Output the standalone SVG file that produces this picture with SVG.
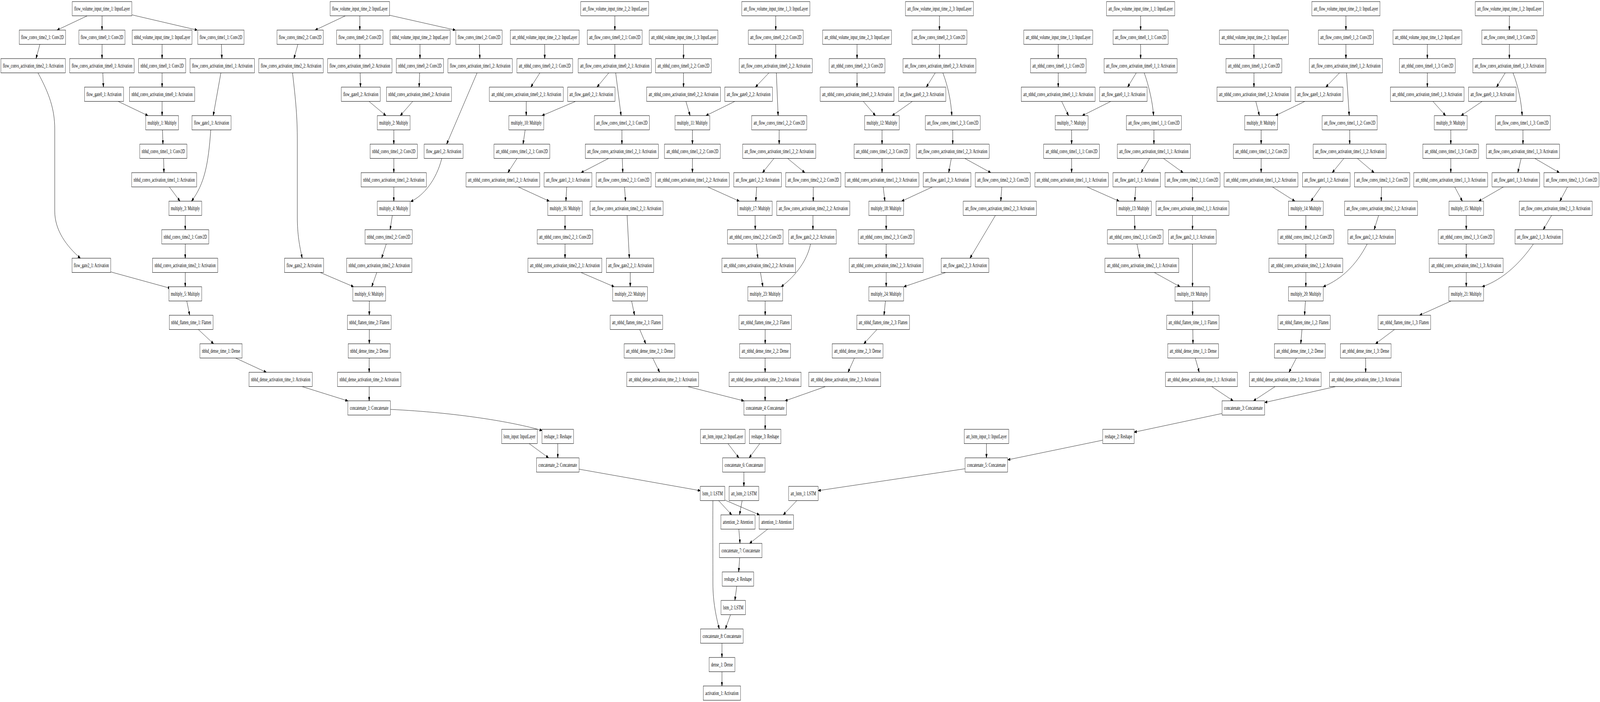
<svg xmlns="http://www.w3.org/2000/svg" width="6490" height="1797" viewBox="0 0 6490 1797" preserveAspectRatio="none">
<style>
svg{width:100vw;height:100vh;display:block}
.node rect{fill:#fff;stroke:#000;stroke-width:1}
.node text{font-family:"Liberation Serif","Times New Roman",serif;font-size:14px;text-anchor:middle;fill:#000}
#edges path{fill:none;stroke:#000;stroke-width:1;marker-end:url(#arr)}
</style>
<defs>
<marker id="arr" markerWidth="10" markerHeight="7" refX="10" refY="3.5" orient="auto" markerUnits="userSpaceOnUse"><path d="M0,0 L10,3.5 L0,7 z" fill="#000" stroke="#000" stroke-width="1"/></marker>
</defs>
<rect x="0" y="0" width="6490" height="1797" fill="#fff"/>
<g id="edges">
<path d="M354,40.5 L231.5,77"/>
<path d="M414,40.5 L414,77"/>
<path d="M535,38 L800,77"/>
<path d="M162,113.5 L146,150"/>
<path d="M414,113.5 L414,150"/>
<path d="M657.5,113.5 L657.5,150"/>
<path d="M898,113.5 L900,150"/>
<path d="M154,186.5 C200,240 222,280 222,330 L222,540 C222,590 270,630 326,661"/>
<path d="M417,186.5 L419.5,223"/>
<path d="M657.5,186.5 L657.5,223"/>
<path d="M896,186.5 L865,296"/>
<path d="M479,259.5 L600,296"/>
<path d="M657.5,259.5 L657.5,296"/>
<path d="M659,332.5 L661,369"/>
<path d="M663.6,405.5 L665,442"/>
<path d="M687,478.5 L730,515"/>
<path d="M855,332.5 C845,420 830,470 777,515"/>
<path d="M751.5,551.5 L751.5,588"/>
<path d="M751.5,624.5 L751.5,661"/>
<path d="M449,696 L691,738"/>
<path d="M751.5,697.5 L751.5,734"/>
<path d="M757.6,770.5 L769.6,807"/>
<path d="M804.6,843.5 L866.4,880"/>
<path d="M955.5,916.5 L1080.3,953"/>
<path d="M1225,989.5 L1411,1026.2"/>
<path d="M1401,40.5 L1278.5,77"/>
<path d="M1459.5,40.5 L1459.5,77"/>
<path d="M1580,39 L1847,77"/>
<path d="M1208.4,113.5 L1192.2,150"/>
<path d="M1459.5,113.5 L1459.5,150"/>
<path d="M1703.6,113.5 L1703.6,150"/>
<path d="M1944.3,113.5 L1946.4,150"/>
<path d="M1186.6,186.5 C1200,260 1206,300 1206,360 L1206,556 C1206,600 1215,630 1226,661"/>
<path d="M1460.9,186.5 L1462.3,223"/>
<path d="M1702.2,186.5 L1700.1,223"/>
<path d="M1935.1,186.5 L1811.7,369"/>
<path d="M1496.7,259.5 L1565.4,296"/>
<path d="M1674.2,259.5 L1623.7,296"/>
<path d="M1597.5,332.5 L1597.5,369"/>
<path d="M1597.5,405.5 L1597.5,442"/>
<path d="M1597.5,478.5 L1597.5,515"/>
<path d="M1792,405.5 C1770,460 1720,500 1666,516"/>
<path d="M1591.4,551.5 L1582.3,588"/>
<path d="M1566.8,624.5 L1547.9,661"/>
<path d="M1298.9,697.5 L1434.3,734"/>
<path d="M1528.3,697.5 L1507.9,734"/>
<path d="M1498,770.5 L1498,807"/>
<path d="M1498,843.5 L1498,880"/>
<path d="M1497.5,916.5 L1497.5,953"/>
<path d="M1497.5,989.5 L1497.5,1026"/>
<path d="M2494,40.5 L2494,77"/>
<path d="M2209.5,113.5 L2209.5,150"/>
<path d="M2494,113.5 L2494,150"/>
<path d="M2190,186.5 L2153.3,223"/>
<path d="M2469.4,186.5 L2421.7,223"/>
<path d="M2497.4,186.5 L2519.2,296"/>
<path d="M2134.6,259.5 L2134.6,296"/>
<path d="M2334.7,259.5 L2198.6,296"/>
<path d="M2130.2,332.5 L2121.7,369"/>
<path d="M2097.2,405.5 L2060,442"/>
<path d="M2522.7,332.5 L2522.7,369"/>
<path d="M2468.7,405.5 L2357.1,442"/>
<path d="M2524.1,405.5 L2526.2,442"/>
<path d="M2102.1,478.5 L2228,515"/>
<path d="M2298.9,478.5 L2295.4,515"/>
<path d="M2533.2,478.5 L2537.4,515"/>
<path d="M2291.9,551.5 L2291.9,588"/>
<path d="M2291.9,624.5 L2291.9,661"/>
<path d="M2543.7,551.5 L2552.8,661"/>
<path d="M2356.4,697.5 L2491.1,734"/>
<path d="M2556.4,697.5 L2556.4,734"/>
<path d="M2562,770.5 L2573.9,807"/>
<path d="M2594.9,843.5 L2619.5,880"/>
<path d="M2647.5,916.5 L2675.6,953"/>
<path d="M2789.3,989.5 L3017.3,1026.2"/>
<path d="M3146.5,40.5 L3146.5,77"/>
<path d="M2772.4,113.5 L2772.4,150"/>
<path d="M3146.5,113.5 L3146.5,150"/>
<path d="M2772.4,186.5 L2772.4,223"/>
<path d="M3119,186.5 L3064.3,223"/>
<path d="M3149.1,186.5 L3156.2,296"/>
<path d="M2782.2,259.5 L2799.1,296"/>
<path d="M2980.8,259.5 L2863.6,296"/>
<path d="M2808.7,332.5 L2808.7,369"/>
<path d="M3160.5,332.5 L3160.5,369"/>
<path d="M2808.7,405.5 L2808.7,442"/>
<path d="M3139.3,405.5 L3093,442"/>
<path d="M3194.7,405.5 L3264.6,442"/>
<path d="M2870.6,478.5 L2999,515"/>
<path d="M3069.2,478.5 L3065.6,515"/>
<path d="M3298.8,478.5 L3298.8,515"/>
<path d="M3062.8,551.5 L3063.5,588"/>
<path d="M3297.5,551.5 L3297.5,588"/>
<path d="M3067.7,624.5 L3074.1,661"/>
<path d="M3084.6,697.5 L3094.4,734"/>
<path d="M3287.7,624.5 C3275,665 3230,705 3168.8,734"/>
<path d="M3103.7,770.5 L3103.7,807"/>
<path d="M3103.7,843.5 L3103.7,880"/>
<path d="M3103.5,916.5 L3103.5,953"/>
<path d="M3103.5,989.5 L3103.5,1026"/>
<path d="M3810.7,40.5 L3810.7,77"/>
<path d="M3476.4,113.5 L3476.4,150"/>
<path d="M3810.7,113.5 L3810.7,150"/>
<path d="M3476.4,186.5 L3476.4,223"/>
<path d="M3793.5,186.5 L3757.7,223"/>
<path d="M3824.4,186.5 C3845,220 3858,260 3860.8,296"/>
<path d="M3501.7,259.5 L3550.8,296"/>
<path d="M3700.9,259.5 L3618.8,296"/>
<path d="M3577.8,332.5 L3577.8,369"/>
<path d="M3864.5,332.5 L3864.5,369"/>
<path d="M3577.8,405.5 L3577.8,442"/>
<path d="M3858.7,405.5 L3848.2,442"/>
<path d="M3913.4,405.5 L4018.7,442"/>
<path d="M3582.3,478.5 L3589.4,515"/>
<path d="M3782.3,478.5 L3657.4,515"/>
<path d="M4063.6,478.5 L4059.4,515"/>
<path d="M3594.6,551.5 L3594.6,588"/>
<path d="M3594.6,624.5 L3594.6,661"/>
<path d="M4037.6,551.5 L3934.5,661"/>
<path d="M3594.6,697.5 L3594.6,734"/>
<path d="M3836.3,697.5 L3666.5,734"/>
<path d="M3591.5,770.5 L3585.8,807"/>
<path d="M3557.1,843.5 L3503.8,880"/>
<path d="M3465.9,916.5 L3439.9,953"/>
<path d="M3348.7,989.5 L3184.2,1026.2"/>
<path d="M4626.6,40.5 L4626.6,77"/>
<path d="M4292.5,113.5 L4292.5,150"/>
<path d="M4626.6,113.5 L4626.6,150"/>
<path d="M4292.5,186.5 L4292.5,223"/>
<path d="M4609,186.5 L4574,223"/>
<path d="M4641.3,186.5 C4660,220 4675,260 4679.2,296"/>
<path d="M4306.3,259.5 L4334,296"/>
<path d="M4505.9,259.5 L4390.2,296"/>
<path d="M4346.7,332.5 L4346.7,369"/>
<path d="M4680.6,332.5 L4680.6,369"/>
<path d="M4346.7,405.5 L4346.7,442"/>
<path d="M4663,405.5 L4628.7,442"/>
<path d="M4719.2,405.5 L4799.1,442"/>
<path d="M4409.1,478.5 L4539.6,515"/>
<path d="M4606.9,478.5 L4602.7,515"/>
<path d="M4837,478.5 L4837,515"/>
<path d="M4601.3,551.5 L4603.4,588"/>
<path d="M4837,551.5 L4837,588"/>
<path d="M4611.8,624.5 L4623.8,661"/>
<path d="M4682,697.5 L4786.5,734"/>
<path d="M4837,624.5 L4837,734"/>
<path d="M4837.5,770.5 L4837.5,807"/>
<path d="M4838.4,843.5 L4839.1,880"/>
<path d="M4848.2,916.5 L4864.4,953"/>
<path d="M4914.9,989.5 L5001.9,1026"/>
<path d="M5459.4,40.5 L5459.4,77"/>
<path d="M5086.4,113.5 L5086.4,150"/>
<path d="M5459.4,113.5 L5459.4,150"/>
<path d="M5086.4,186.5 L5086.4,223"/>
<path d="M5433.5,186.5 L5377.9,223"/>
<path d="M5461.6,186.5 L5472.8,296"/>
<path d="M5093.8,259.5 L5108.5,296"/>
<path d="M5293,259.5 L5173.7,296"/>
<path d="M5115.5,332.5 L5115.5,369"/>
<path d="M5474.8,332.5 L5474.8,369"/>
<path d="M5115.5,405.5 L5115.5,442"/>
<path d="M5451,405.5 L5404,442"/>
<path d="M5505.8,405.5 L5573.8,442"/>
<path d="M5161.1,478.5 L5252.3,515"/>
<path d="M5358.2,478.5 L5317.5,515"/>
<path d="M5604,478.5 L5602.6,515"/>
<path d="M5296.8,551.5 L5296.8,588"/>
<path d="M5592,551.5 L5573.8,588"/>
<path d="M5296.8,624.5 L5296.8,661"/>
<path d="M5296.8,697.5 L5296.8,734"/>
<path d="M5545.7,624.5 C5500,680 5440,715 5367.4,734"/>
<path d="M5295.1,770.5 L5291.6,807"/>
<path d="M5281.1,843.5 L5276.2,880"/>
<path d="M5258.6,916.5 L5228.5,953"/>
<path d="M5172.3,989.5 L5084.6,1026"/>
<path d="M6122.4,40.5 L6122.4,77"/>
<path d="M5789.7,113.5 L5789.7,150"/>
<path d="M6122.4,113.5 L6122.4,150"/>
<path d="M5789.7,186.5 L5789.7,223"/>
<path d="M6105.5,186.5 L6070.5,223"/>
<path d="M6137.1,186.5 C6158,220 6171,260 6174.3,296"/>
<path d="M5812.3,259.5 L5863.5,296"/>
<path d="M6012.2,259.5 L5926.7,296"/>
<path d="M5884.8,332.5 L5884.8,369"/>
<path d="M6177.5,332.5 L6177.5,369"/>
<path d="M5884.8,405.5 L5884.8,442"/>
<path d="M6170.1,405.5 L6156.7,442"/>
<path d="M6225.5,405.5 L6325.1,442"/>
<path d="M5900.7,478.5 L5931.6,515"/>
<path d="M6098.5,478.5 L5998.2,515"/>
<path d="M6358.1,478.5 L6327.2,515"/>
<path d="M5947.5,551.5 L5947.5,588"/>
<path d="M6293.6,551.5 L6259.9,588"/>
<path d="M5947.5,624.5 L5947.5,661"/>
<path d="M5947.5,697.5 L5947.5,734"/>
<path d="M6219.9,624.5 C6170,670 6100,715 6012.2,734"/>
<path d="M5886,770.5 L5758.3,807"/>
<path d="M5656.6,843.5 L5579.4,880"/>
<path d="M5539.4,916.5 L5539.4,953"/>
<path d="M5418,989.5 L5130.2,1030.3"/>
<path d="M1584,1048 C1850,1056 2080,1080 2199,1102"/>
<path d="M2146.3,1135.5 L2225.2,1172"/>
<path d="M2262.4,1135.5 L2262.4,1172"/>
<path d="M2348.7,1201 L2840.5,1256"/>
<path d="M3103.6,1062.5 L3103.6,1099"/>
<path d="M2952.7,1135.5 L2996.9,1172"/>
<path d="M3081.8,1135.5 L3039,1172"/>
<path d="M3017.4,1208.5 L3017.4,1245"/>
<path d="M4957,1058.4 L4600.6,1106.3"/>
<path d="M4472.9,1126.8 L4088,1177"/>
<path d="M4001.3,1135.5 L4001.3,1172"/>
<path d="M3914.8,1199.9 L3318.6,1256"/>
<path d="M2914.8,1281.5 L2968.1,1318"/>
<path d="M2940.1,1280 L3080.4,1318"/>
<path d="M2891.7,1281.5 C2891,1350 2891.7,1400 2891.7,1494 C2891.7,1540 2905,1580 2917.6,1610"/>
<path d="M3010.2,1281.5 L2999.7,1318"/>
<path d="M3231.9,1281.5 L3177.2,1318"/>
<path d="M2996.9,1354.5 L3001.8,1391"/>
<path d="M3114,1354.5 L3040.4,1391"/>
<path d="M3000.4,1427.5 L2996.2,1464"/>
<path d="M2988.5,1500.5 L2980.8,1537"/>
<path d="M2963.2,1573.5 L2942.2,1610"/>
<path d="M2928.5,1646.5 L2928.5,1683"/>
<path d="M2928.5,1719.5 L2928.5,1756"/>
</g>
<g id="n_fvi1" class="node"><rect x="293" y="4" width="242" height="36.5"/><text x="414" y="27">flow_volume_input_time_1: InputLayer</text></g>
<g id="n_fct2_1" class="node"><rect x="78" y="77" width="188" height="36.5"/><text x="172" y="100">flow_convs_time2_1: Conv2D</text></g>
<g id="n_fct0_1" class="node"><rect x="320" y="77" width="187" height="36.5"/><text x="413.5" y="100">flow_convs_time0_1: Conv2D</text></g>
<g id="n_nvi1" class="node"><rect x="536" y="77" width="243" height="36.5"/><text x="657.5" y="100">nbhd_volume_input_time_1: InputLayer</text></g>
<g id="n_fct1_1" class="node"><rect x="802" y="77" width="188" height="36.5"/><text x="896" y="100">flow_convs_time1_1: Conv2D</text></g>
<g id="n_fca2_1" class="node"><rect x="3.5" y="150" width="261.5" height="36.5"/><text x="134.3" y="173">flow_convs_activation_time2_1: Activation</text></g>
<g id="n_fca0_1" class="node"><rect x="283" y="150" width="261" height="36.5"/><text x="413.5" y="173">flow_convs_activation_time0_1: Activation</text></g>
<g id="n_nct0_1" class="node"><rect x="562" y="150" width="191" height="36.5"/><text x="657.5" y="173">nbhd_convs_time0_1: Conv2D</text></g>
<g id="n_fca1_1" class="node"><rect x="771" y="150" width="261" height="36.5"/><text x="901.5" y="173">flow_convs_activation_time1_1: Activation</text></g>
<g id="n_fg0_1" class="node"><rect x="343" y="223" width="158" height="36.5"/><text x="422" y="246">flow_gate0_1: Activation</text></g>
<g id="n_nca0_1" class="node"><rect x="525" y="223" width="265" height="36.5"/><text x="657.5" y="246">nbhd_convs_activation_time0_1: Activation</text></g>
<g id="n_m1" class="node"><rect x="591" y="296" width="133" height="36.5"/><text x="657.5" y="319">multiply_1: Multiply</text></g>
<g id="n_fg1_1" class="node"><rect x="779" y="296" width="158" height="36.5"/><text x="858" y="319">flow_gate1_1: Activation</text></g>
<g id="n_nct1_1" class="node"><rect x="567" y="369" width="191" height="36.5"/><text x="662.5" y="392">nbhd_convs_time1_1: Conv2D</text></g>
<g id="n_nca1_1" class="node"><rect x="534" y="442" width="264" height="36.5"/><text x="666" y="465">nbhd_convs_activation_time1_1: Activation</text></g>
<g id="n_m3" class="node"><rect x="685" y="515" width="133" height="36.5"/><text x="751.5" y="538">multiply_3: Multiply</text></g>
<g id="n_nct2_1" class="node"><rect x="656" y="588" width="191" height="36.5"/><text x="751.5" y="611">nbhd_convs_time2_1: Conv2D</text></g>
<g id="n_fg2_1" class="node"><rect x="292" y="661" width="157" height="36.5"/><text x="370.5" y="684">flow_gate2_1: Activation</text></g>
<g id="n_nca2_1" class="node"><rect x="619" y="661" width="264" height="36.5"/><text x="751" y="684">nbhd_convs_activation_time2_1: Activation</text></g>
<g id="n_m5" class="node"><rect x="685" y="734" width="133" height="36.5"/><text x="751.5" y="757">multiply_5: Multiply</text></g>
<g id="n_nfl1" class="node"><rect x="687" y="807" width="177" height="36.5"/><text x="775.5" y="830">nbhd_flatten_time_1: Flatten</text></g>
<g id="n_nde1" class="node"><rect x="811" y="880" width="171" height="36.5"/><text x="896.5" y="903">nbhd_dense_time_1: Dense</text></g>
<g id="n_nda1" class="node"><rect x="1010" y="953" width="257" height="36.5"/><text x="1138.5" y="976">nbhd_dense_activation_time_1: Activation</text></g>
<g id="n_fvi2" class="node"><rect x="1339" y="4" width="241" height="36.5"/><text x="1459.5" y="27">flow_volume_input_time_2: InputLayer</text></g>
<g id="n_fct2_2" class="node"><rect x="1123.5" y="77" width="188" height="36.5"/><text x="1217.5" y="100">flow_convs_time2_2: Conv2D</text></g>
<g id="n_fct0_2" class="node"><rect x="1365.5" y="77" width="188" height="36.5"/><text x="1459.5" y="100">flow_convs_time0_2: Conv2D</text></g>
<g id="n_nvi2" class="node"><rect x="1582" y="77" width="244" height="36.5"/><text x="1704" y="100">nbhd_volume_input_time_2: InputLayer</text></g>
<g id="n_fct1_2" class="node"><rect x="1849" y="77" width="188" height="36.5"/><text x="1943" y="100">flow_convs_time1_2: Conv2D</text></g>
<g id="n_fca2_2" class="node"><rect x="1050" y="150" width="261" height="36.5"/><text x="1180.5" y="173">flow_convs_activation_time2_2: Activation</text></g>
<g id="n_fca0_2" class="node"><rect x="1329" y="150" width="261" height="36.5"/><text x="1459.5" y="173">flow_convs_activation_time0_2: Activation</text></g>
<g id="n_nct0_2" class="node"><rect x="1607.5" y="150" width="191.5" height="36.5"/><text x="1703.3" y="173">nbhd_convs_time0_2: Conv2D</text></g>
<g id="n_fca1_2" class="node"><rect x="1817" y="150" width="261" height="36.5"/><text x="1947.5" y="173">flow_convs_activation_time1_2: Activation</text></g>
<g id="n_fg0_2" class="node"><rect x="1384.5" y="223" width="158" height="36.5"/><text x="1463.5" y="246">flow_gate0_2: Activation</text></g>
<g id="n_nca0_2" class="node"><rect x="1567.5" y="223" width="264" height="36.5"/><text x="1699.5" y="246">nbhd_convs_activation_time0_2: Activation</text></g>
<g id="n_m2" class="node"><rect x="1530.5" y="296" width="133" height="36.5"/><text x="1597" y="319">multiply_2: Multiply</text></g>
<g id="n_nct1_2" class="node"><rect x="1501.5" y="369" width="191.5" height="36.5"/><text x="1597.3" y="392">nbhd_convs_time1_2: Conv2D</text></g>
<g id="n_fg1_2" class="node"><rect x="1720.5" y="369" width="158" height="36.5"/><text x="1799.5" y="392">flow_gate1_2: Activation</text></g>
<g id="n_nca1_2" class="node"><rect x="1465" y="442" width="264.5" height="36.5"/><text x="1597.3" y="465">nbhd_convs_activation_time1_2: Activation</text></g>
<g id="n_m4" class="node"><rect x="1530.5" y="515" width="133" height="36.5"/><text x="1597" y="538">multiply_4: Multiply</text></g>
<g id="n_nct2_2" class="node"><rect x="1480.5" y="588" width="191.5" height="36.5"/><text x="1576.3" y="611">nbhd_convs_time2_2: Conv2D</text></g>
<g id="n_fg2_2" class="node"><rect x="1154.5" y="661" width="158" height="36.5"/><text x="1233.5" y="684">flow_gate2_2: Activation</text></g>
<g id="n_nca2_2" class="node"><rect x="1406" y="661" width="264.5" height="36.5"/><text x="1538.3" y="684">nbhd_convs_activation_time2_2: Activation</text></g>
<g id="n_m6" class="node"><rect x="1431" y="734" width="133" height="36.5"/><text x="1497.5" y="757">multiply_6: Multiply</text></g>
<g id="n_nfl2" class="node"><rect x="1409" y="807" width="177.5" height="36.5"/><text x="1497.8" y="830">nbhd_flatten_time_2: Flatten</text></g>
<g id="n_nde2" class="node"><rect x="1412.5" y="880" width="170.5" height="36.5"/><text x="1497.8" y="903">nbhd_dense_time_2: Dense</text></g>
<g id="n_nda2" class="node"><rect x="1369" y="953" width="257" height="36.5"/><text x="1497.5" y="976">nbhd_dense_activation_time_2: Activation</text></g>
<g id="n_anvi2_2" class="node"><rect x="2069.8" y="77" width="279.6" height="36.5"/><text x="2209.6" y="100">att_nbhd_volume_input_time_2_2: InputLayer</text></g>
<g id="n_afvi2_2" class="node"><rect x="2355.7" y="4" width="275.7" height="36.5"/><text x="2493.6" y="27">att_flow_volume_input_time_2_2: InputLayer</text></g>
<g id="n_afct0_2_1" class="node"><rect x="2382.4" y="77" width="222.4" height="36.5"/><text x="2493.6" y="100">att_flow_convs_time0_2_1: Conv2D</text></g>
<g id="n_anct0_2_1" class="node"><rect x="2096.5" y="150" width="226.3" height="36.5"/><text x="2209.6" y="173">att_nbhd_convs_time0_2_1: Conv2D</text></g>
<g id="n_afca0_2_1" class="node"><rect x="2345.2" y="150" width="296.7" height="36.5"/><text x="2493.6" y="173">att_flow_convs_activation_time0_2_1: Activation</text></g>
<g id="n_anca0_2_1" class="node"><rect x="1985" y="223" width="299.9" height="36.5"/><text x="2135" y="246">att_nbhd_convs_activation_time0_2_1: Activation</text></g>
<g id="n_afg0_2_1" class="node"><rect x="2302.4" y="223" width="192.2" height="36.5"/><text x="2398.5" y="246">att_flow_gate0_2_1: Activation</text></g>
<g id="n_m10" class="node"><rect x="2064.2" y="296" width="141.4" height="36.5"/><text x="2134.9" y="319">multiply_10: Multiply</text></g>
<g id="n_afct1_2_1" class="node"><rect x="2411.1" y="296" width="223.1" height="36.5"/><text x="2522.7" y="319">att_flow_convs_time1_2_1: Conv2D</text></g>
<g id="n_anct1_2_1" class="node"><rect x="2003.9" y="369" width="226.3" height="36.5"/><text x="2117" y="392">att_nbhd_convs_time1_2_1: Conv2D</text></g>
<g id="n_afca1_2_1" class="node"><rect x="2374" y="369" width="296.7" height="36.5"/><text x="2522.4" y="392">att_flow_convs_activation_time1_2_1: Activation</text></g>
<g id="n_anca1_2_1" class="node"><rect x="1890.3" y="442" width="299.2" height="36.5"/><text x="2039.9" y="465">att_nbhd_convs_activation_time1_2_1: Activation</text></g>
<g id="n_afg1_2_1" class="node"><rect x="2207" y="442" width="193.6" height="36.5"/><text x="2303.8" y="465">att_flow_gate1_2_1: Activation</text></g>
<g id="n_afct2_2_1" class="node"><rect x="2418.2" y="442" width="223" height="36.5"/><text x="2529.7" y="465">att_flow_convs_time2_2_1: Conv2D</text></g>
<g id="n_m16" class="node"><rect x="2221.7" y="515" width="140.3" height="36.5"/><text x="2291.9" y="538">multiply_16: Multiply</text></g>
<g id="n_afca2_2_1" class="node"><rect x="2393.6" y="515" width="296" height="36.5"/><text x="2541.6" y="538">att_flow_convs_activation_time2_2_1: Activation</text></g>
<g id="n_anct2_2_1" class="node"><rect x="2178.9" y="588" width="225.9" height="36.5"/><text x="2291.9" y="611">att_nbhd_convs_time2_2_1: Conv2D</text></g>
<g id="n_anca2_2_1" class="node"><rect x="2141.4" y="661" width="299.9" height="36.5"/><text x="2291.4" y="684">att_nbhd_convs_activation_time2_2_1: Activation</text></g>
<g id="n_afg2_2_1" class="node"><rect x="2459.5" y="661" width="192.3" height="36.5"/><text x="2555.7" y="684">att_flow_gate2_2_1: Activation</text></g>
<g id="n_m22" class="node"><rect x="2485.5" y="734" width="141" height="36.5"/><text x="2556" y="757">multiply_22: Multiply</text></g>
<g id="n_afl2_1" class="node"><rect x="2475" y="807" width="213.2" height="36.5"/><text x="2581.6" y="830">att_nbhd_flatten_time_2_1: Flatten</text></g>
<g id="n_ade2_1" class="node"><rect x="2531.8" y="880" width="205.5" height="36.5"/><text x="2634.6" y="903">att_nbhd_dense_time_2_1: Dense</text></g>
<g id="n_ada2_1" class="node"><rect x="2542.3" y="953" width="291.8" height="36.5"/><text x="2688.2" y="976">att_nbhd_dense_activation_time_2_1: Activation</text></g>
<g id="n_afvi1_3" class="node"><rect x="3008.8" y="4" width="276.1" height="36.5"/><text x="3146.9" y="27">att_flow_volume_input_time_1_3: InputLayer</text></g>
<g id="n_anvi1_3" class="node"><rect x="2633.5" y="77" width="278.5" height="36.5"/><text x="2772.8" y="100">att_nbhd_volume_input_time_1_3: InputLayer</text></g>
<g id="n_afct0_2_2" class="node"><rect x="3035.5" y="77" width="222.4" height="36.5"/><text x="3146.7" y="100">att_flow_convs_time0_2_2: Conv2D</text></g>
<g id="n_anct0_2_2" class="node"><rect x="2658.8" y="150" width="226.6" height="36.5"/><text x="2772.1" y="173">att_nbhd_convs_time0_2_2: Conv2D</text></g>
<g id="n_afca0_2_2" class="node"><rect x="2998.3" y="150" width="296.4" height="36.5"/><text x="3146.5" y="173">att_flow_convs_activation_time0_2_2: Activation</text></g>
<g id="n_anca0_2_2" class="node"><rect x="2623" y="223" width="299.5" height="36.5"/><text x="2772.8" y="246">att_nbhd_convs_activation_time0_2_2: Activation</text></g>
<g id="n_afg0_2_2" class="node"><rect x="2940.1" y="223" width="192.9" height="36.5"/><text x="3036.6" y="246">att_flow_gate0_2_2: Activation</text></g>
<g id="n_m11" class="node"><rect x="2738" y="296" width="141" height="36.5"/><text x="2808.5" y="319">multiply_11: Multiply</text></g>
<g id="n_afct1_2_2" class="node"><rect x="3048.8" y="296" width="223.5" height="36.5"/><text x="3160.6" y="319">att_flow_convs_time1_2_2: Conv2D</text></g>
<g id="n_anct1_2_2" class="node"><rect x="2695.2" y="369" width="226.6" height="36.5"/><text x="2808.5" y="392">att_nbhd_convs_time1_2_2: Conv2D</text></g>
<g id="n_afca1_2_2" class="node"><rect x="3012.3" y="369" width="296.4" height="36.5"/><text x="3160.5" y="392">att_flow_convs_activation_time1_2_2: Activation</text></g>
<g id="n_anca1_2_2" class="node"><rect x="2658.8" y="442" width="299.5" height="36.5"/><text x="2808.6" y="465">att_nbhd_convs_activation_time1_2_2: Activation</text></g>
<g id="n_afg1_2_2" class="node"><rect x="2976.6" y="442" width="192.9" height="36.5"/><text x="3073" y="465">att_flow_gate1_2_2: Activation</text></g>
<g id="n_afct2_2_2" class="node"><rect x="3187" y="442" width="223.5" height="36.5"/><text x="3298.8" y="465">att_flow_convs_time2_2_2: Conv2D</text></g>
<g id="n_m17" class="node"><rect x="2992" y="515" width="140.3" height="36.5"/><text x="3062.2" y="538">multiply_17: Multiply</text></g>
<g id="n_afca2_2_2" class="node"><rect x="3150.5" y="515" width="296.5" height="36.5"/><text x="3298.8" y="538">att_flow_convs_activation_time2_2_2: Activation</text></g>
<g id="n_anct2_2_2" class="node"><rect x="2950.6" y="588" width="225.9" height="36.5"/><text x="3063.6" y="611">att_nbhd_convs_time2_2_2: Conv2D</text></g>
<g id="n_afg2_2_2" class="node"><rect x="3199" y="588" width="193.2" height="36.5"/><text x="3295.6" y="611">att_flow_gate2_2_2: Activation</text></g>
<g id="n_anca2_2_2" class="node"><rect x="2928.2" y="661" width="298.8" height="36.5"/><text x="3077.6" y="684">att_nbhd_convs_activation_time2_2_2: Activation</text></g>
<g id="n_m23" class="node"><rect x="3033.4" y="734" width="141" height="36.5"/><text x="3103.9" y="757">multiply_23: Multiply</text></g>
<g id="n_afl2_2" class="node"><rect x="2997.6" y="807" width="212.6" height="36.5"/><text x="3103.9" y="830">att_nbhd_flatten_time_2_2: Flatten</text></g>
<g id="n_ade2_2" class="node"><rect x="3000.4" y="880" width="206.3" height="36.5"/><text x="3103.6" y="903">att_nbhd_dense_time_2_2: Dense</text></g>
<g id="n_ada2_2" class="node"><rect x="2957.6" y="953" width="291.8" height="36.5"/><text x="3103.5" y="976">att_nbhd_dense_activation_time_2_2: Activation</text></g>
<g id="n_afvi2_3" class="node"><rect x="3672.8" y="4" width="275.7" height="36.5"/><text x="3810.7" y="27">att_flow_volume_input_time_2_3: InputLayer</text></g>
<g id="n_anvi2_3" class="node"><rect x="3336.8" y="77" width="279.2" height="36.5"/><text x="3476.4" y="100">att_nbhd_volume_input_time_2_3: InputLayer</text></g>
<g id="n_afct0_2_3" class="node"><rect x="3699.5" y="77" width="222.4" height="36.5"/><text x="3810.7" y="100">att_flow_convs_time0_2_3: Conv2D</text></g>
<g id="n_anct0_2_3" class="node"><rect x="3363.5" y="150" width="225.9" height="36.5"/><text x="3476.5" y="173">att_nbhd_convs_time0_2_3: Conv2D</text></g>
<g id="n_afca0_2_3" class="node"><rect x="3663" y="150" width="295.3" height="36.5"/><text x="3810.7" y="173">att_flow_convs_activation_time0_2_3: Activation</text></g>
<g id="n_anca0_2_3" class="node"><rect x="3327" y="223" width="298.8" height="36.5"/><text x="3476.4" y="246">att_nbhd_convs_activation_time0_2_3: Activation</text></g>
<g id="n_afg0_2_3" class="node"><rect x="3644.8" y="223" width="191.5" height="36.5"/><text x="3740.6" y="246">att_flow_gate0_2_3: Activation</text></g>
<g id="n_m12" class="node"><rect x="3507.3" y="296" width="140.3" height="36.5"/><text x="3577.5" y="319">multiply_12: Multiply</text></g>
<g id="n_afct1_2_3" class="node"><rect x="3753.5" y="296" width="222.4" height="36.5"/><text x="3864.7" y="319">att_flow_convs_time1_2_3: Conv2D</text></g>
<g id="n_anct1_2_3" class="node"><rect x="3464.5" y="369" width="225.9" height="36.5"/><text x="3577.5" y="392">att_nbhd_convs_time1_2_3: Conv2D</text></g>
<g id="n_afca1_2_3" class="node"><rect x="3717" y="369" width="295.4" height="36.5"/><text x="3864.7" y="392">att_flow_convs_activation_time1_2_3: Activation</text></g>
<g id="n_anca1_2_3" class="node"><rect x="3428" y="442" width="299.5" height="36.5"/><text x="3577.8" y="465">att_nbhd_convs_activation_time1_2_3: Activation</text></g>
<g id="n_afg1_2_3" class="node"><rect x="3745.1" y="442" width="192.9" height="36.5"/><text x="3841.6" y="465">att_flow_gate1_2_3: Activation</text></g>
<g id="n_afct2_2_3" class="node"><rect x="3956.2" y="442" width="223.1" height="36.5"/><text x="4067.8" y="465">att_flow_convs_time2_2_3: Conv2D</text></g>
<g id="n_m18" class="node"><rect x="3524.1" y="515" width="141" height="36.5"/><text x="3594.6" y="538">multiply_18: Multiply</text></g>
<g id="n_afca2_2_3" class="node"><rect x="3907.1" y="515" width="296.8" height="36.5"/><text x="4055.5" y="538">att_flow_convs_activation_time2_2_3: Activation</text></g>
<g id="n_anct2_2_3" class="node"><rect x="3481.3" y="588" width="226.6" height="36.5"/><text x="3594.6" y="611">att_nbhd_convs_time2_2_3: Conv2D</text></g>
<g id="n_anca2_2_3" class="node"><rect x="3444.8" y="661" width="299.6" height="36.5"/><text x="3594.6" y="684">att_nbhd_convs_activation_time2_2_3: Activation</text></g>
<g id="n_afg2_2_3" class="node"><rect x="3818" y="661" width="192.9" height="36.5"/><text x="3914.5" y="684">att_flow_gate2_2_3: Activation</text></g>
<g id="n_m24" class="node"><rect x="3524.1" y="734" width="141" height="36.5"/><text x="3594.6" y="757">multiply_24: Multiply</text></g>
<g id="n_afl2_3" class="node"><rect x="3475.7" y="807" width="213.3" height="36.5"/><text x="3582.4" y="830">att_nbhd_flatten_time_2_3: Flatten</text></g>
<g id="n_ade2_3" class="node"><rect x="3375.4" y="880" width="206.2" height="36.5"/><text x="3478.5" y="903">att_nbhd_dense_time_2_3: Dense</text></g>
<g id="n_ada2_3" class="node"><rect x="3280.7" y="953" width="291.8" height="36.5"/><text x="3426.6" y="976">att_nbhd_dense_activation_time_2_3: Activation</text></g>
<g id="n_afvi1_1" class="node"><rect x="4488.4" y="4" width="276.4" height="36.5"/><text x="4626.6" y="27">att_flow_volume_input_time_1_1: InputLayer</text></g>
<g id="n_anvi1_1" class="node"><rect x="4152.7" y="77" width="279.5" height="36.5"/><text x="4292.5" y="100">att_nbhd_volume_input_time_1_1: InputLayer</text></g>
<g id="n_afct0_1_1" class="node"><rect x="4515" y="77" width="223.1" height="36.5"/><text x="4626.6" y="100">att_flow_convs_time0_1_1: Conv2D</text></g>
<g id="n_anct0_1_1" class="node"><rect x="4180" y="150" width="225.6" height="36.5"/><text x="4292.8" y="173">att_nbhd_convs_time0_1_1: Conv2D</text></g>
<g id="n_afca0_1_1" class="node"><rect x="4478.5" y="150" width="296.1" height="36.5"/><text x="4626.6" y="173">att_flow_convs_activation_time0_1_1: Activation</text></g>
<g id="n_anca0_1_1" class="node"><rect x="4142.8" y="223" width="299.3" height="36.5"/><text x="4292.5" y="246">att_nbhd_convs_activation_time0_1_1: Activation</text></g>
<g id="n_afg0_1_1" class="node"><rect x="4460.3" y="223" width="192.9" height="36.5"/><text x="4556.8" y="246">att_flow_gate0_1_1: Activation</text></g>
<g id="n_m7" class="node"><rect x="4280" y="296" width="133.3" height="36.5"/><text x="4346.7" y="319">multiply_7: Multiply</text></g>
<g id="n_afct1_1_1" class="node"><rect x="4569" y="296" width="223.1" height="36.5"/><text x="4680.6" y="319">att_flow_convs_time1_1_1: Conv2D</text></g>
<g id="n_anct1_1_1" class="node"><rect x="4233.3" y="369" width="226.3" height="36.5"/><text x="4346.5" y="392">att_nbhd_convs_time1_1_1: Conv2D</text></g>
<g id="n_afca1_1_1" class="node"><rect x="4531.9" y="369" width="296.7" height="36.5"/><text x="4680.3" y="392">att_flow_convs_activation_time1_1_1: Activation</text></g>
<g id="n_anca1_1_1" class="node"><rect x="4197.6" y="442" width="298.5" height="36.5"/><text x="4346.9" y="465">att_nbhd_convs_activation_time1_1_1: Activation</text></g>
<g id="n_afg1_1_1" class="node"><rect x="4514.3" y="442" width="192.9" height="36.5"/><text x="4610.8" y="465">att_flow_gate1_1_1: Activation</text></g>
<g id="n_afct2_1_1" class="node"><rect x="4725.5" y="442" width="223.1" height="36.5"/><text x="4837.1" y="465">att_flow_convs_time2_1_1: Conv2D</text></g>
<g id="n_m13" class="node"><rect x="4529" y="515" width="141" height="36.5"/><text x="4599.5" y="538">multiply_13: Multiply</text></g>
<g id="n_afca2_1_1" class="node"><rect x="4689" y="515" width="296" height="36.5"/><text x="4837" y="538">att_flow_convs_activation_time2_1_1: Activation</text></g>
<g id="n_anct2_1_1" class="node"><rect x="4491.9" y="588" width="225.9" height="36.5"/><text x="4604.9" y="611">att_nbhd_convs_time2_1_1: Conv2D</text></g>
<g id="n_afg2_1_1" class="node"><rect x="4740.2" y="588" width="192.9" height="36.5"/><text x="4836.7" y="611">att_flow_gate2_1_1: Activation</text></g>
<g id="n_anca2_1_1" class="node"><rect x="4482" y="661" width="299.6" height="36.5"/><text x="4631.8" y="684">att_nbhd_convs_activation_time2_1_1: Activation</text></g>
<g id="n_m19" class="node"><rect x="4766.2" y="734" width="141" height="36.5"/><text x="4836.7" y="757">multiply_19: Multiply</text></g>
<g id="n_afl1_1" class="node"><rect x="4732.5" y="807" width="212.5" height="36.5"/><text x="4838.8" y="830">att_nbhd_flatten_time_1_1: Flatten</text></g>
<g id="n_ade1_1" class="node"><rect x="4736.7" y="880" width="206.2" height="36.5"/><text x="4839.8" y="903">att_nbhd_dense_time_1_1: Dense</text></g>
<g id="n_ada1_1" class="node"><rect x="4727.6" y="953" width="291.8" height="36.5"/><text x="4873.5" y="976">att_nbhd_dense_activation_time_1_1: Activation</text></g>
<g id="n_afvi2_1" class="node"><rect x="5321" y="4" width="276.6" height="36.5"/><text x="5459.3" y="27">att_flow_volume_input_time_2_1: InputLayer</text></g>
<g id="n_anvi2_1" class="node"><rect x="4946.4" y="77" width="280" height="36.5"/><text x="5086.4" y="100">att_nbhd_volume_input_time_2_1: InputLayer</text></g>
<g id="n_afct0_1_2" class="node"><rect x="5347.7" y="77" width="223.3" height="36.5"/><text x="5459.4" y="100">att_flow_convs_time0_1_2: Conv2D</text></g>
<g id="n_anct0_1_2" class="node"><rect x="4973.1" y="150" width="226.6" height="36.5"/><text x="5086.4" y="173">att_nbhd_convs_time0_1_2: Conv2D</text></g>
<g id="n_afca0_1_2" class="node"><rect x="5311.2" y="150" width="296.3" height="36.5"/><text x="5459.4" y="173">att_flow_convs_activation_time0_1_2: Activation</text></g>
<g id="n_anca0_1_2" class="node"><rect x="4936.6" y="223" width="299.6" height="36.5"/><text x="5086.4" y="246">att_nbhd_convs_activation_time0_1_2: Activation</text></g>
<g id="n_afg0_1_2" class="node"><rect x="5253.7" y="223" width="193.8" height="36.5"/><text x="5350.6" y="246">att_flow_gate0_1_2: Activation</text></g>
<g id="n_m8" class="node"><rect x="5048.9" y="296" width="133.2" height="36.5"/><text x="5115.5" y="319">multiply_8: Multiply</text></g>
<g id="n_afct1_1_2" class="node"><rect x="5363.1" y="296" width="223.3" height="36.5"/><text x="5474.8" y="319">att_flow_convs_time1_1_2: Conv2D</text></g>
<g id="n_anct1_1_2" class="node"><rect x="5002.6" y="369" width="226.6" height="36.5"/><text x="5115.9" y="392">att_nbhd_convs_time1_1_2: Conv2D</text></g>
<g id="n_afca1_1_2" class="node"><rect x="5326.7" y="369" width="296.2" height="36.5"/><text x="5474.8" y="392">att_flow_convs_activation_time1_1_2: Activation</text></g>
<g id="n_anca1_1_2" class="node"><rect x="4965.4" y="442" width="299.5" height="36.5"/><text x="5115.2" y="465">att_nbhd_convs_activation_time1_1_2: Activation</text></g>
<g id="n_afg1_1_2" class="node"><rect x="5283.2" y="442" width="193.1" height="36.5"/><text x="5379.8" y="465">att_flow_gate1_1_2: Activation</text></g>
<g id="n_afct2_1_2" class="node"><rect x="5493.8" y="442" width="224.5" height="36.5"/><text x="5606" y="465">att_flow_convs_time2_1_2: Conv2D</text></g>
<g id="n_m14" class="node"><rect x="5226.4" y="515" width="141" height="36.5"/><text x="5296.9" y="538">multiply_14: Multiply</text></g>
<g id="n_afca2_1_2" class="node"><rect x="5453.8" y="515" width="296.1" height="36.5"/><text x="5601.9" y="538">att_flow_convs_activation_time2_1_2: Activation</text></g>
<g id="n_anct2_1_2" class="node"><rect x="5183.6" y="588" width="226.4" height="36.5"/><text x="5296.8" y="611">att_nbhd_convs_time2_1_2: Conv2D</text></g>
<g id="n_afg2_1_2" class="node"><rect x="5467.2" y="588" width="192.9" height="36.5"/><text x="5563.7" y="611">att_flow_gate2_1_2: Activation</text></g>
<g id="n_anca2_1_2" class="node"><rect x="5147.1" y="661" width="299.7" height="36.5"/><text x="5297" y="684">att_nbhd_convs_activation_time2_1_2: Activation</text></g>
<g id="n_m20" class="node"><rect x="5226.4" y="734" width="141" height="36.5"/><text x="5296.9" y="757">multiply_20: Multiply</text></g>
<g id="n_afl1_2" class="node"><rect x="5183.6" y="807" width="212.5" height="36.5"/><text x="5289.9" y="830">att_nbhd_flatten_time_1_2: Flatten</text></g>
<g id="n_ade1_2" class="node"><rect x="5169.5" y="880" width="206.3" height="36.5"/><text x="5272.7" y="903">att_nbhd_dense_time_1_2: Dense</text></g>
<g id="n_ada1_2" class="node"><rect x="5067.8" y="953" width="291.1" height="36.5"/><text x="5213.4" y="976">att_nbhd_dense_activation_time_1_2: Activation</text></g>
<g id="n_afvi1_2" class="node"><rect x="5984.2" y="4" width="276.4" height="36.5"/><text x="6122.4" y="27">att_flow_volume_input_time_1_2: InputLayer</text></g>
<g id="n_anvi1_2" class="node"><rect x="5650.3" y="77" width="279.2" height="36.5"/><text x="5789.9" y="100">att_nbhd_volume_input_time_1_2: InputLayer</text></g>
<g id="n_afct0_1_3" class="node"><rect x="6010.8" y="77" width="223.8" height="36.5"/><text x="6122.7" y="100">att_flow_convs_time0_1_3: Conv2D</text></g>
<g id="n_anct0_1_3" class="node"><rect x="5676.2" y="150" width="226.6" height="36.5"/><text x="5789.5" y="173">att_nbhd_convs_time0_1_3: Conv2D</text></g>
<g id="n_afca0_1_3" class="node"><rect x="5974.4" y="150" width="296" height="36.5"/><text x="6122.4" y="173">att_flow_convs_activation_time0_1_3: Activation</text></g>
<g id="n_anca0_1_3" class="node"><rect x="5639.7" y="223" width="298.9" height="36.5"/><text x="5789.2" y="246">att_nbhd_convs_activation_time0_1_3: Activation</text></g>
<g id="n_afg0_1_3" class="node"><rect x="5956.8" y="223" width="192.9" height="36.5"/><text x="6053.3" y="246">att_flow_gate0_1_3: Activation</text></g>
<g id="n_m9" class="node"><rect x="5817.9" y="296" width="133.3" height="36.5"/><text x="5884.6" y="319">multiply_9: Multiply</text></g>
<g id="n_afct1_1_3" class="node"><rect x="6065.6" y="296" width="223" height="36.5"/><text x="6177.1" y="319">att_flow_convs_time1_1_3: Conv2D</text></g>
<g id="n_anct1_1_3" class="node"><rect x="5771.6" y="369" width="225.9" height="36.5"/><text x="5884.6" y="392">att_nbhd_convs_time1_1_3: Conv2D</text></g>
<g id="n_afca1_1_3" class="node"><rect x="6029.1" y="369" width="296.7" height="36.5"/><text x="6177.5" y="392">att_flow_convs_activation_time1_1_3: Activation</text></g>
<g id="n_anca1_1_3" class="node"><rect x="5734.4" y="442" width="299.6" height="36.5"/><text x="5884.2" y="465">att_nbhd_convs_activation_time1_1_3: Activation</text></g>
<g id="n_afg1_1_3" class="node"><rect x="6052.2" y="442" width="193" height="36.5"/><text x="6148.7" y="465">att_flow_gate1_1_3: Activation</text></g>
<g id="n_afct2_1_3" class="node"><rect x="6262.7" y="442" width="223.1" height="36.5"/><text x="6374.3" y="465">att_flow_convs_time2_1_3: Conv2D</text></g>
<g id="n_m15" class="node"><rect x="5877.6" y="515" width="140.2" height="36.5"/><text x="5947.7" y="538">multiply_15: Multiply</text></g>
<g id="n_afca2_1_3" class="node"><rect x="6162.4" y="515" width="296" height="36.5"/><text x="6310.4" y="538">att_flow_convs_activation_time2_1_3: Activation</text></g>
<g id="n_anct2_1_3" class="node"><rect x="5834" y="588" width="226.6" height="36.5"/><text x="5947.3" y="611">att_nbhd_convs_time2_1_3: Conv2D</text></g>
<g id="n_afg2_1_3" class="node"><rect x="6145.5" y="588" width="192.9" height="36.5"/><text x="6242" y="611">att_flow_gate2_1_3: Activation</text></g>
<g id="n_anca2_1_3" class="node"><rect x="5797.6" y="661" width="299.5" height="36.5"/><text x="5947.4" y="684">att_nbhd_convs_activation_time2_1_3: Activation</text></g>
<g id="n_m21" class="node"><rect x="5876.8" y="734" width="141" height="36.5"/><text x="5947.3" y="757">multiply_21: Multiply</text></g>
<g id="n_afl1_3" class="node"><rect x="5589.9" y="807" width="213.3" height="36.5"/><text x="5696.6" y="830">att_nbhd_flatten_time_1_3: Flatten</text></g>
<g id="n_ade1_3" class="node"><rect x="5437" y="880" width="205.5" height="36.5"/><text x="5539.8" y="903">att_nbhd_dense_time_1_3: Dense</text></g>
<g id="n_ada1_3" class="node"><rect x="5392.8" y="953" width="291.8" height="36.5"/><text x="5538.7" y="976">att_nbhd_dense_activation_time_1_3: Activation</text></g>
<g id="n_c1" class="node"><rect x="1411.1" y="1026" width="172.6" height="36.5"/><text x="1497.4" y="1049">concatenate_1: Concatenate</text></g>
<g id="n_c4" class="node"><rect x="3017.3" y="1026" width="172.5" height="36.5"/><text x="3103.6" y="1049">concatenate_4: Concatenate</text></g>
<g id="n_c3" class="node"><rect x="4957" y="1026" width="172.6" height="36.5"/><text x="5043.3" y="1049">concatenate_3: Concatenate</text></g>
<g id="n_lstm_input" class="node"><rect x="2034.8" y="1099" width="144.8" height="36.5"/><text x="2107.2" y="1122">lstm_input: InputLayer</text></g>
<g id="n_reshape_1" class="node"><rect x="2198.6" y="1099" width="127.7" height="36.5"/><text x="2262.5" y="1122">reshape_1: Reshape</text></g>
<g id="n_att_lstm_input_2" class="node"><rect x="2841.2" y="1099" width="180.9" height="36.5"/><text x="2931.7" y="1122">att_lstm_input_2: InputLayer</text></g>
<g id="n_reshape_3" class="node"><rect x="3039.7" y="1099" width="127.7" height="36.5"/><text x="3103.6" y="1122">reshape_3: Reshape</text></g>
<g id="n_att_lstm_input_1" class="node"><rect x="3911.3" y="1099" width="180.3" height="36.5"/><text x="4001.5" y="1122">att_lstm_input_1: InputLayer</text></g>
<g id="n_reshape_2" class="node"><rect x="4472.9" y="1099" width="127.7" height="36.5"/><text x="4536.8" y="1122">reshape_2: Reshape</text></g>
<g id="n_c2" class="node"><rect x="2176.1" y="1172" width="172.6" height="36.5"/><text x="2262.4" y="1195">concatenate_2: Concatenate</text></g>
<g id="n_c6" class="node"><rect x="2931" y="1172" width="172.5" height="36.5"/><text x="3017.3" y="1195">concatenate_6: Concatenate</text></g>
<g id="n_c5" class="node"><rect x="3914.8" y="1172" width="172.6" height="36.5"/><text x="4001.1" y="1195">concatenate_5: Concatenate</text></g>
<g id="n_lstm_1" class="node"><rect x="2840.5" y="1245" width="99.6" height="36.5"/><text x="2890.3" y="1268">lstm_1: LSTM</text></g>
<g id="n_att_lstm_2" class="node"><rect x="2957.6" y="1245" width="120" height="36.5"/><text x="3017.6" y="1268">att_lstm_2: LSTM</text></g>
<g id="n_att_lstm_1" class="node"><rect x="3198.9" y="1245" width="119.7" height="36.5"/><text x="3258.8" y="1268">att_lstm_1: LSTM</text></g>
<g id="n_attention_2" class="node"><rect x="2924" y="1318" width="138.8" height="36.5"/><text x="2993.4" y="1341">attention_2: Attention</text></g>
<g id="n_attention_1" class="node"><rect x="3079.7" y="1318" width="138.9" height="36.5"/><text x="3149.2" y="1341">attention_1: Attention</text></g>
<g id="n_c7" class="node"><rect x="2918.3" y="1391" width="172.6" height="36.5"/><text x="3004.6" y="1414">concatenate_7: Concatenate</text></g>
<g id="n_reshape_4" class="node"><rect x="2929.6" y="1464" width="127.6" height="36.5"/><text x="2993.4" y="1487">reshape_4: Reshape</text></g>
<g id="n_lstm_2" class="node"><rect x="2924.7" y="1537" width="98.9" height="36.5"/><text x="2974.2" y="1560">lstm_2: LSTM</text></g>
<g id="n_c8" class="node"><rect x="2841.9" y="1610" width="172.5" height="36.5"/><text x="2928.2" y="1633">concatenate_8: Concatenate</text></g>
<g id="n_dense_1" class="node"><rect x="2876.2" y="1683" width="104.6" height="36.5"/><text x="2928.5" y="1706">dense_1: Dense</text></g>
<g id="n_activation_1" class="node"><rect x="2853.1" y="1756" width="150.8" height="36.5"/><text x="2928.5" y="1779">activation_1: Activation</text></g>
</svg>
